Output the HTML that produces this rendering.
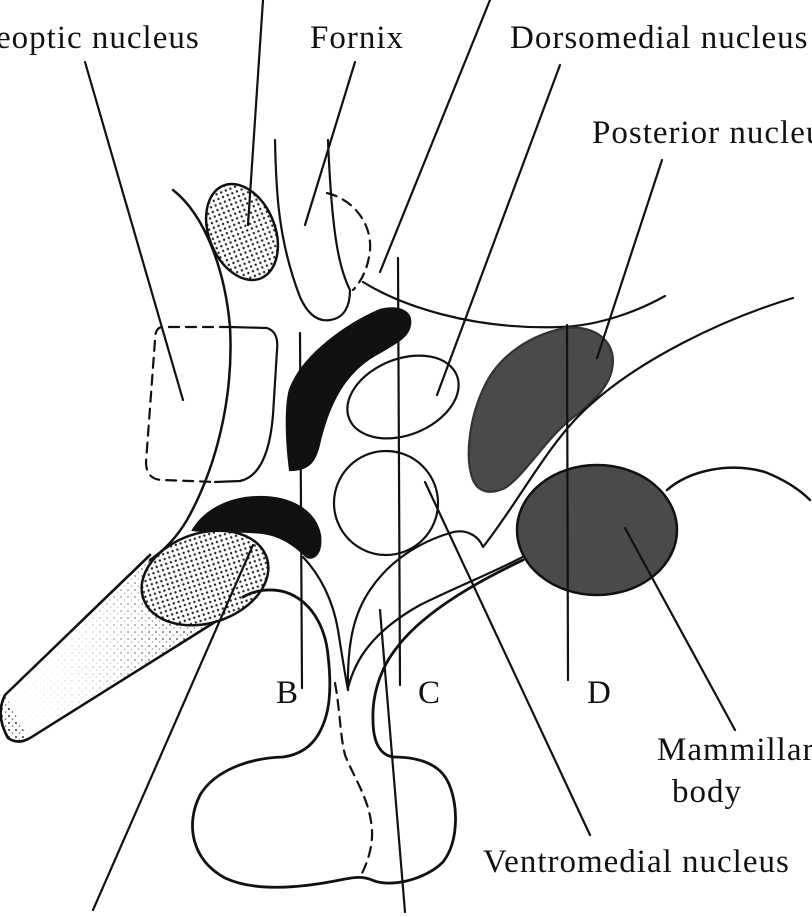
<!DOCTYPE html>
<html><head><style>
html,body{margin:0;padding:0;background:#fff;width:812px;height:917px;overflow:hidden}
svg{display:block}
text{font-family:"Liberation Serif",serif;font-size:33px;letter-spacing:1px;fill:#111}
</style></head><body>
<svg width="812" height="917" viewBox="0 0 812 917" xmlns="http://www.w3.org/2000/svg">
<defs>
<pattern id="dots" width="5" height="5" patternUnits="userSpaceOnUse">
<rect width="5" height="5" fill="#fff"/><circle cx="2.5" cy="2.5" r="1.2" fill="#222"/>
</pattern>
<pattern id="sp" width="7" height="7" patternUnits="userSpaceOnUse">
<rect width="7" height="7" fill="#fff"/><circle cx="2" cy="2" r="1" fill="#333"/><circle cx="5.5" cy="5" r="0.8" fill="#555"/>
</pattern>
<linearGradient id="fade" x1="0" y1="0" x2="1" y2="0">
<stop offset="0" stop-color="#fff" stop-opacity="1"/><stop offset="0.4" stop-color="#fff" stop-opacity="0.85"/><stop offset="1" stop-color="#fff" stop-opacity="0"/>
</linearGradient>
</defs>
<text x="-4" y="48">eoptic nucleus</text>
<text x="310" y="48">Fornix</text>
<text x="510" y="48">Dorsomedial nucleus</text>
<text x="592" y="143">Posterior nucleus</text>
<text x="276" y="703">B</text>
<text x="418" y="703">C</text>
<text x="587" y="703">D</text>
<text x="657" y="760">Mammillary</text>
<text x="672" y="802">body</text>
<text x="483" y="872">Ventromedial nucleus</text>

<g fill="none" stroke="#111" stroke-width="2.2" stroke-linecap="round">
<path d="M150,555 L5,695 Q-5,715 8,738 Q18,745 30,738 L215,622" fill="url(#sp)" stroke-width="2.5"/>
<path d="M2,690 L150,560 L215,622 L30,742 Z" fill="url(#fade)" stroke="none"/>
<path d="M150,555 L5,695 Q-5,715 8,738 Q18,745 30,738 L215,622" stroke-width="2.5"/>
<path d="M173,190 C205,215 225,270 230,327 C234,400 215,470 187,520 C175,540 162,552 150,560" stroke-width="2.5"/>
<ellipse cx="242" cy="232" rx="33" ry="50" transform="rotate(-22 242 232)" fill="url(#dots)" stroke-width="2.5"/>
<path d="M275,140 C276,190 278,240 300,297 C308,315 318,322 330,320 C345,318 350,305 350,290 C340,270 332,240 328,140"/>
<path d="M327,193 C355,200 372,225 370,250 C368,270 360,283 353,290" stroke-dasharray="10,7"/>
<path d="M363,282 C400,305 470,330 560,327 C600,326 640,310 665,296"/>
<path d="M230,327 L163,327 Q155,327 155,340 L146,462 Q146,480 163,480 L215,482" stroke-dasharray="10,7"/>
<path d="M230,327 L267,328 Q279,332 277,350 L273,415 Q268,475 240,481 L215,482"/>
<path d="M290,470 C285,430 286,395 292,385 C305,355 345,325 380,310 C400,305 412,312 410,325 C408,338 395,343 370,358 C345,375 330,400 320,440 C316,460 310,470 290,470 Z" fill="#111"/>
<ellipse cx="403" cy="397" rx="58" ry="38" transform="rotate(-22 403 397)"/>
<circle cx="386" cy="503" r="52"/>
<path d="M473,480 C465,460 468,420 485,385 C500,355 530,335 565,328 C595,325 612,340 613,360 C613,385 595,400 570,420 C545,440 525,475 505,488 C490,495 478,492 473,480 Z" fill="#4a4a4a" stroke="#333"/>
<path d="M793,298 C720,320 640,360 590,405 C550,440 520,500 483,547"/>
<path d="M483,547 C478,535 465,528 450,533 C420,542 390,560 370,590 C355,612 347,640 348,690"/>
<path d="M348,688 C355,660 372,632 420,605 C460,585 500,570 530,553"/>
<ellipse cx="600" cy="530" rx="84" ry="67" fill="#fff" stroke="none"/>
<ellipse cx="597" cy="530" rx="80" ry="65" fill="#4a4a4a" stroke="#111" stroke-width="2.5"/>
<path d="M667,490 C690,470 730,462 765,472 C785,480 800,490 810,500" stroke-width="2.5"/>
<path d="M523,560 C470,585 420,615 395,650 C378,672 372,700 373,720 C373,742 380,755 393,757" stroke-width="2.8"/>
<path d="M193,530 C205,510 230,497 260,497 C290,497 315,510 320,535 C322,552 315,560 307,557 C295,545 280,535 263,533 C240,530 215,533 193,530 Z" fill="#111"/>
<ellipse cx="205" cy="578" rx="65" ry="45" transform="rotate(-18 205 578)" fill="url(#dots)" stroke-width="2.5"/>
<path d="M303,557 C320,575 333,600 338,630 C342,655 345,675 348,690"/>
<path d="M243,597 C255,590 270,588 285,592 C310,600 325,625 328,655 C332,690 330,715 318,735 C310,748 298,755 283,757 C250,758 215,770 200,795 C185,825 192,860 225,878 C255,892 300,888 340,880 C355,877 362,876 372,880 C390,888 425,880 443,862 C460,840 458,800 447,780 C437,762 415,757 393,757" stroke-width="2.8"/>
<path d="M335,683 C340,710 340,735 345,755 C355,780 370,800 372,830 C373,850 365,868 360,877" stroke-dasharray="10,7"/>
<path d="M263,0 L248,225"/>
<path d="M490,0 L380,272"/>
<path d="M355,62 L305,225"/>
<path d="M85,62 L183,400"/>
<path d="M560,65 L437,395"/>
<path d="M662,160 L597,358"/>
<path d="M735,730 L625,528"/>
<path d="M590,835 L425,482"/>
<path d="M93,910 L253,545"/>
<path d="M405,912 L380,610"/>
<path d="M300,333 L302,688"/>
<path d="M398,258 L400,685"/>
<path d="M567,325 L568,680"/>
</g>
</svg>
</body></html>
